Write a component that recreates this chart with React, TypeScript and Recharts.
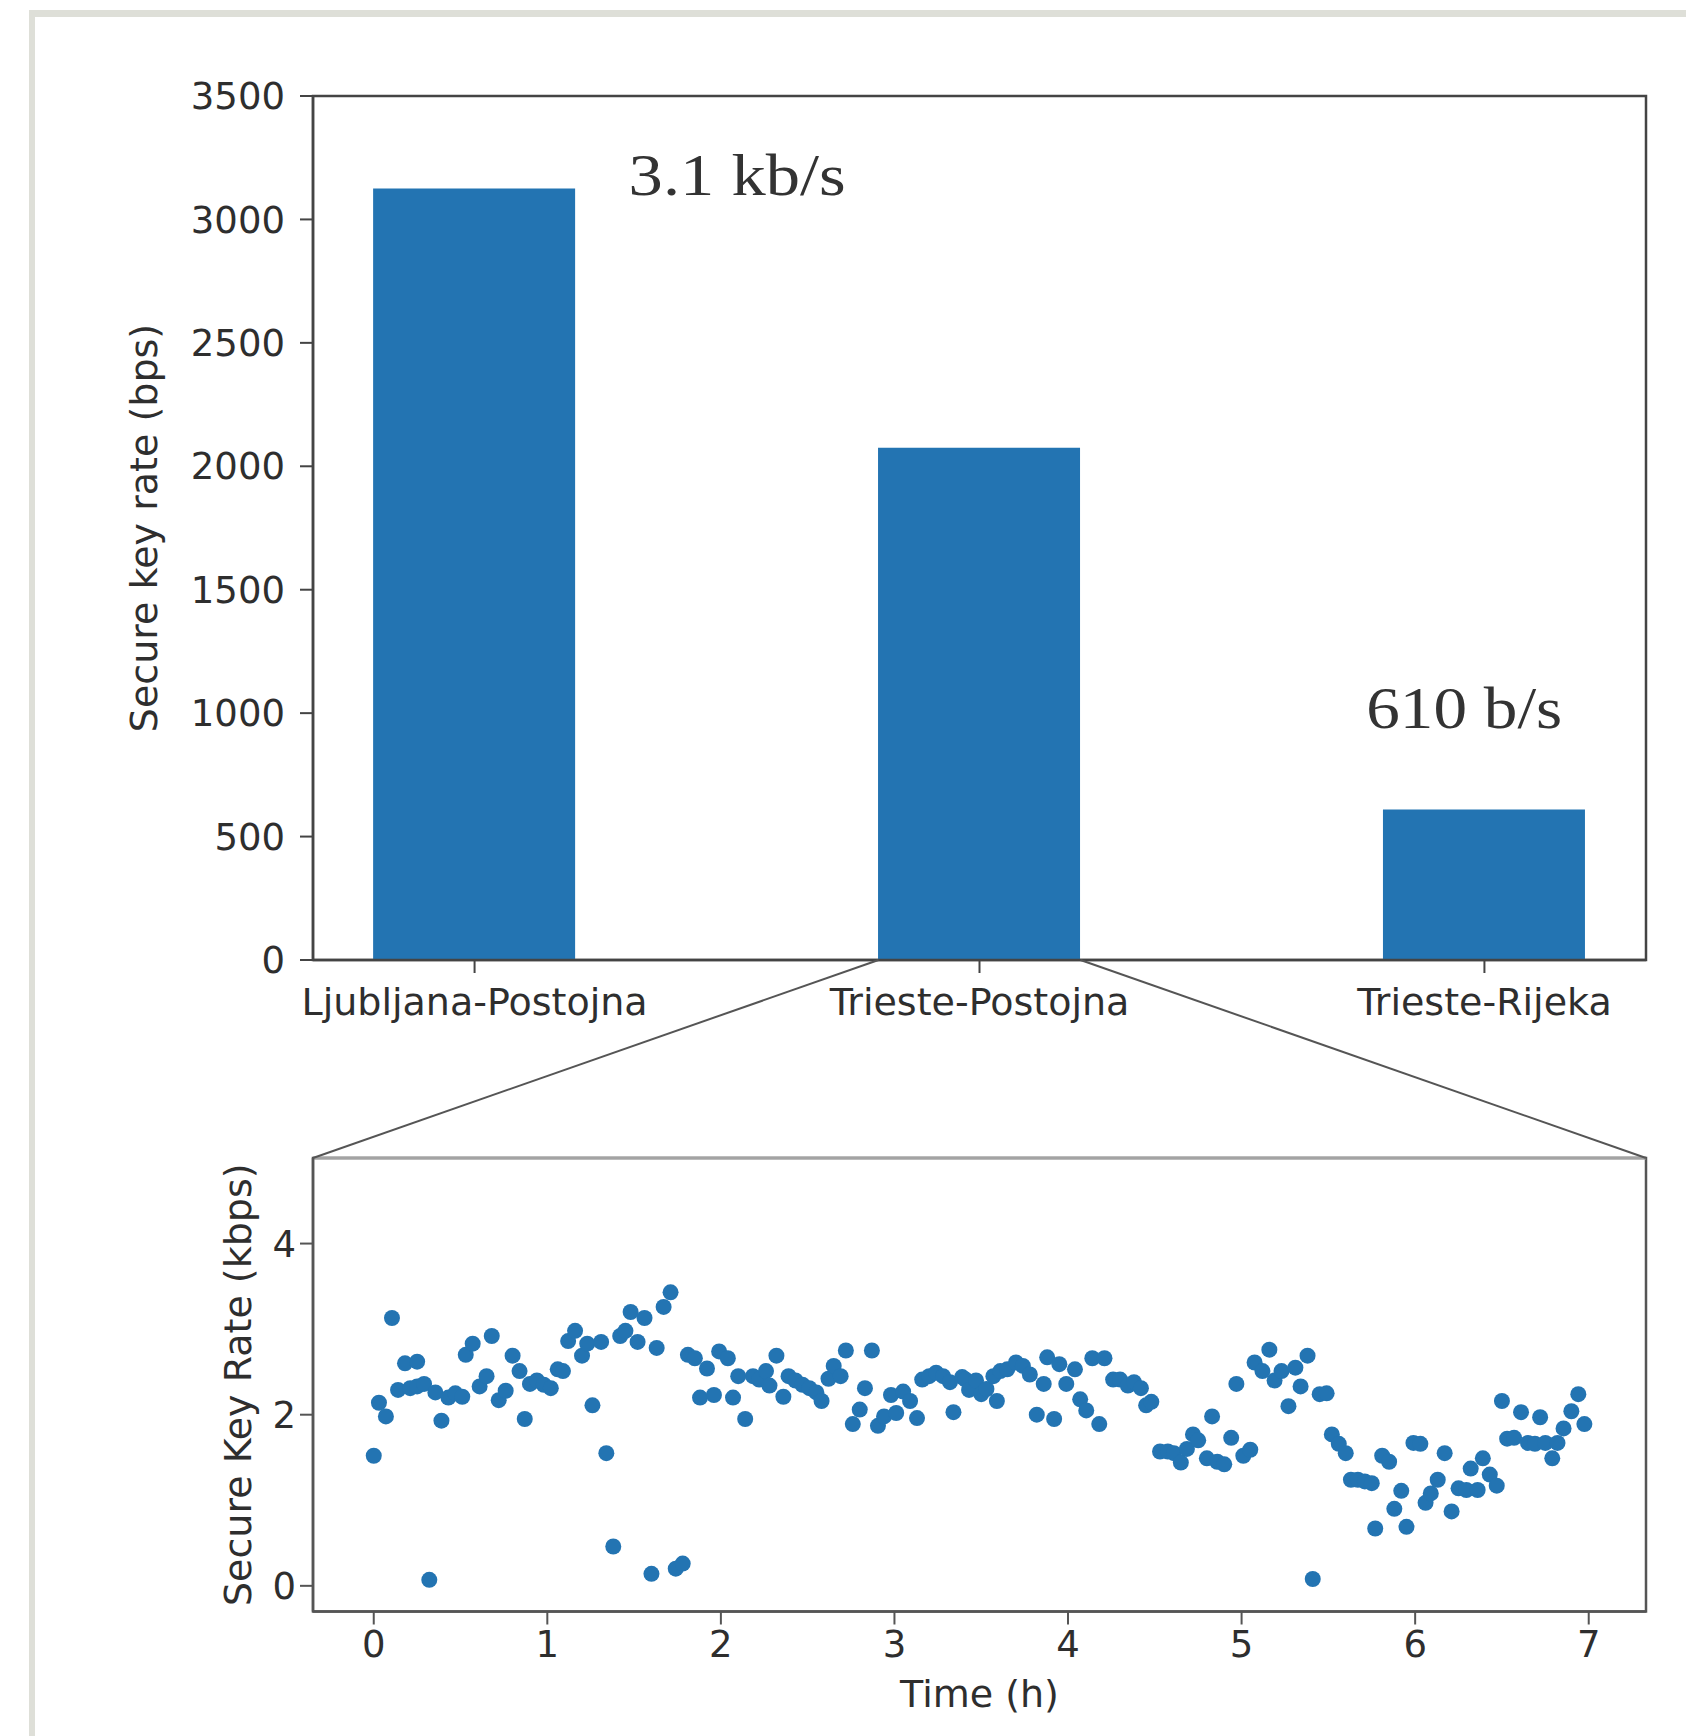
import React from "react";
import {
  BarChart,
  Bar,
  ScatterChart,
  Scatter,
  XAxis,
  YAxis,
  ReferenceArea,
  ReferenceDot,
  ReferenceLine,
  Label,
} from "recharts";

// top panel: secure key rate per link
const LINKS = ["Ljubljana-Postojna", "Trieste-Postojna", "Trieste-Rijeka"];
const LINK_RATES_BPS = [3125, 2075, 610];
const RATE_TICKS = [0, 500, 1000, 1500, 2000, 2500, 3000, 3500];

// bottom panel: Trieste-Postojna key rate over time
const TIME_H = [
  0.0, 0.03, 0.07, 0.105, 0.14, 0.18, 0.21, 0.25, 0.25, 0.29, 0.32, 0.355, 0.39, 0.43, 0.47, 0.51,
  0.53, 0.57, 0.61, 0.65, 0.68, 0.72, 0.76, 0.8, 0.84, 0.87, 0.9, 0.94, 0.98, 1.02, 1.06, 1.09,
  1.12, 1.16, 1.2, 1.23, 1.26, 1.31, 1.34, 1.38, 1.42, 1.45, 1.48, 1.52, 1.56, 1.6, 1.63, 1.67,
  1.71, 1.74, 1.78, 1.81, 1.85, 1.88, 1.92, 1.96, 1.99, 2.04, 2.07, 2.1, 2.14, 2.185, 2.22, 2.26,
  2.28, 2.32, 2.36, 2.39, 2.43, 2.47, 2.51, 2.55, 2.58, 2.62, 2.65, 2.69, 2.72, 2.76, 2.8, 2.83,
  2.87, 2.905, 2.94, 2.98, 3.01, 3.05, 3.09, 3.13, 3.16, 3.2, 3.24, 3.28, 3.32, 3.34, 3.39, 3.41,
  3.43, 3.47, 3.5, 3.53, 3.57, 3.59, 3.61, 3.65, 3.7, 3.74, 3.78, 3.82, 3.86, 3.88, 3.92, 3.95,
  3.99, 4.04, 4.07, 4.105, 4.14, 4.18, 4.21, 4.26, 4.3, 4.345, 4.38, 4.42, 4.45, 4.48, 4.53, 4.575,
  4.61, 4.65, 4.685, 4.72, 4.75, 4.8, 4.83, 4.86, 4.9, 4.94, 4.97, 5.01, 5.05, 5.075, 5.12, 5.16,
  5.19, 5.23, 5.27, 5.31, 5.34, 5.38, 5.41, 5.45, 5.49, 5.52, 5.56, 5.6, 5.63, 5.67, 5.71, 5.75,
  5.77, 5.81, 5.85, 5.88, 5.92, 5.95, 5.99, 6.03, 6.06, 6.09, 6.13, 6.17, 6.21, 6.25, 6.295, 6.32,
  6.36, 6.39, 6.43, 6.47, 6.5, 6.53, 6.57, 6.61, 6.65, 6.69, 6.72, 6.75, 6.79, 6.82, 6.855, 6.9,
  6.94, 6.975,
];
const KEY_RATE_KBPS = [
  1.52, 2.14, 1.98, 3.13, 2.29, 2.6, 2.31, 2.62, 2.33, 2.36, 0.07, 2.26, 1.93, 2.2, 2.25, 2.21,
  2.7, 2.83, 2.33, 2.45, 2.92, 2.17, 2.28, 2.69, 2.51, 1.95, 2.36, 2.4, 2.35, 2.31, 2.53, 2.51,
  2.86, 2.98, 2.69, 2.83, 2.11, 2.85, 1.55, 0.46, 2.92, 2.98, 3.2, 2.85, 3.13, 0.14, 2.78, 3.26,
  3.43, 0.2, 0.26, 2.7, 2.66, 2.2, 2.54, 2.23, 2.74, 2.66, 2.2, 2.45, 1.95, 2.45, 2.41, 2.51,
  2.34, 2.69, 2.21, 2.45, 2.4, 2.35, 2.31, 2.26, 2.16, 2.42, 2.57, 2.45, 2.75, 1.89, 2.06, 2.31,
  2.75, 1.87, 1.98, 2.23, 2.02, 2.27, 2.16, 1.96, 2.41, 2.45, 2.49, 2.45, 2.38, 2.03, 2.44, 2.41,
  2.29, 2.4, 2.24, 2.3, 2.45, 2.16, 2.51, 2.53, 2.61, 2.57, 2.47, 2.0, 2.36, 2.67, 1.95, 2.59,
  2.36, 2.53, 2.18, 2.05, 2.66, 1.89, 2.66, 2.41, 2.41, 2.34, 2.38, 2.31, 2.11, 2.15, 1.57, 1.57,
  1.55, 1.44, 1.6, 1.77, 1.7, 1.49, 1.98, 1.45, 1.42, 1.73, 2.36, 1.52, 1.59, 2.61, 2.51, 2.76,
  2.4, 2.51, 2.1, 2.55, 2.33, 2.69, 0.08, 2.24, 2.25, 1.77, 1.66, 1.55, 1.24, 1.24, 1.22, 1.2,
  0.67, 1.52, 1.45, 0.9, 1.11, 0.69, 1.67, 1.66, 0.97, 1.08, 1.24, 1.55, 0.87, 1.14, 1.12, 1.37,
  1.12, 1.49, 1.3, 1.17, 2.16, 1.72, 1.73, 2.03, 1.67, 1.66, 1.97, 1.67, 1.49, 1.67, 1.84, 2.04,
  2.24, 1.89,
];
const TIME_TICKS = [0, 1, 2, 3, 4, 5, 6, 7];
const KBPS_TICKS = [0, 2, 4];

const barData = LINKS.map((name, i) => ({ pos: i, name, rate: LINK_RATES_BPS[i] }));
const scatterData = TIME_H.map((t, i) => ({ t, rate: KEY_RATE_KBPS[i] }));

const BLUE = "#2374b2";
const AXIS = "#444";
const TEXT = "#2e2e2e";
const FONT = "DejaVu Sans";

const W = 1686;
const H = 1736;
const PLOT_LEFT = 313;
const PLOT_RIGHT_MARGIN = 40;
const BAR_TOP = 96;
const BAR_CHART_H = 1100;
const BAR_X_DOMAIN: [number, number] = [-0.32, 2.32];
const BAR_SIZE = 202;
const SCATTER_TOP = 58;
const SCATTER_CHART_H = H - BAR_CHART_H;
const SCATTER_X_DOMAIN: [number, number] = [-0.35, 7.33];
const SCATTER_Y_DOMAIN: [number, number] = [-0.3, 5];

const tickStyle = { fill: TEXT, fontSize: 37, fontFamily: FONT };

function annotation(text: string, width: number) {
  return (props: any) => {
    const vb = props.viewBox || {};
    const x = (vb.x ?? 0) + (vb.width ?? 0) / 2;
    const y = (vb.y ?? 0) + (vb.height ?? 0) / 2;
    return (
      <text
        x={x}
        y={y}
        textAnchor="middle"
        fontFamily="Liberation Serif"
        fontSize={60}
        fill="#333"
        textLength={width}
        lengthAdjust="spacingAndGlyphs"
      >
        {text}
      </text>
    );
  };
}

function ZoomLines() {
  // connect the base of the Trieste-Postojna bar to the top of the time series panel
  const plotW = W - PLOT_RIGHT_MARGIN - PLOT_LEFT;
  const barCenter =
    PLOT_LEFT + ((1 - BAR_X_DOMAIN[0]) / (BAR_X_DOMAIN[1] - BAR_X_DOMAIN[0])) * plotW;
  const baseY = BAR_CHART_H - 140;
  const frameTop = BAR_CHART_H + SCATTER_TOP;
  return (
    <svg
      width={W}
      height={H}
      style={{ position: "absolute", left: 0, top: 0, pointerEvents: "none" }}
    >
      <line x1={barCenter - BAR_SIZE / 2} y1={baseY} x2={PLOT_LEFT} y2={frameTop} stroke="#555" strokeWidth={2} />
      <line x1={barCenter + BAR_SIZE / 2} y1={baseY} x2={W - PLOT_RIGHT_MARGIN} y2={frameTop} stroke="#555" strokeWidth={2} />
    </svg>
  );
}

export default function App() {
  return (
    <div
      style={{
        position: "absolute",
        left: 0,
        top: 0,
        width: W,
        height: H,
        background: "#fff",
        overflow: "hidden",
        fontFamily: FONT,
      }}
    >
      <div style={{ position: "absolute", left: 29, top: 10, right: 0, height: 7, background: "#dedfd8" }} />
      <div style={{ position: "absolute", left: 29, top: 10, width: 6, bottom: 0, background: "#dedfd8" }} />

      <div style={{ position: "absolute", left: 0, top: 0 }}>
        <BarChart
          width={W}
          height={BAR_CHART_H}
          data={barData}
          margin={{ top: BAR_TOP, right: PLOT_RIGHT_MARGIN, bottom: 80, left: 0 }}
        >
          <XAxis
            type="number"
            dataKey="pos"
            domain={BAR_X_DOMAIN}
            ticks={[0, 1, 2]}
            interval={0}
            allowDataOverflow
            tickFormatter={(v: number) => LINKS[v] ?? ""}
            height={60}
            tickSize={13}
            tickMargin={15}
            axisLine={{ stroke: AXIS, strokeWidth: 2.5 }}
            tickLine={{ stroke: AXIS, strokeWidth: 2 }}
            tick={{ ...tickStyle, fontSize: 38 }}
          />
          <YAxis
            type="number"
            domain={[0, 3500]}
            ticks={RATE_TICKS}
            interval={0}
            width={PLOT_LEFT}
            tickSize={13}
            tickMargin={15}
            axisLine={{ stroke: AXIS, strokeWidth: 2.5 }}
            tickLine={{ stroke: AXIS, strokeWidth: 2 }}
            tick={tickStyle}
          >
            <Label
              value="Secure key rate (bps)"
              angle={-90}
              position="insideLeft"
              dx={139}
              style={{ textAnchor: "middle", fontSize: 38, fill: TEXT, fontFamily: FONT }}
            />
          </YAxis>
          <Bar dataKey="rate" fill={BLUE} barSize={BAR_SIZE} isAnimationActive={false} />
          <ReferenceArea
            x1={BAR_X_DOMAIN[0]}
            x2={BAR_X_DOMAIN[1]}
            y1={0}
            y2={3500}
            fill="none"
            fillOpacity={0}
            stroke={AXIS}
            strokeWidth={2.5}
            ifOverflow="visible"
          />
          <ReferenceDot x={0.52} y={3099} r={0} fill="none" stroke="none" label={annotation("3.1 kb/s", 217)} />
          <ReferenceDot x={1.96} y={938} r={0} fill="none" stroke="none" label={annotation("610 b/s", 196)} />
        </BarChart>
      </div>

      <div style={{ position: "absolute", left: 0, top: BAR_CHART_H }}>
        <ScatterChart
          width={W}
          height={SCATTER_CHART_H}
          margin={{ top: SCATTER_TOP, right: PLOT_RIGHT_MARGIN, bottom: 24.5, left: 0 }}
        >
          <XAxis
            type="number"
            dataKey="t"
            domain={SCATTER_X_DOMAIN}
            ticks={TIME_TICKS}
            interval={0}
            allowDataOverflow
            height={100}
            tickSize={13}
            tickMargin={6}
            axisLine={{ stroke: "#555", strokeWidth: 2.5 }}
            tickLine={{ stroke: "#555", strokeWidth: 2 }}
            tick={tickStyle}
          >
            <Label
              value="Time (h)"
              position="insideBottom"
              offset={5}
              style={{ fontSize: 38, fill: TEXT, fontFamily: FONT }}
            />
          </XAxis>
          <YAxis
            type="number"
            dataKey="rate"
            domain={SCATTER_Y_DOMAIN}
            ticks={KBPS_TICKS}
            interval={0}
            allowDataOverflow
            width={PLOT_LEFT}
            tickSize={13}
            tickMargin={4}
            axisLine={{ stroke: "#555", strokeWidth: 2.5 }}
            tickLine={{ stroke: "#555", strokeWidth: 2 }}
            tick={tickStyle}
          >
            <Label
              value="Secure Key Rate (kbps)"
              angle={-90}
              position="insideLeft"
              dx={233}
              style={{ textAnchor: "middle", fontSize: 38, fill: TEXT, fontFamily: FONT }}
            />
          </YAxis>
          <ReferenceArea
            x1={SCATTER_X_DOMAIN[0]}
            x2={SCATTER_X_DOMAIN[1]}
            y1={SCATTER_Y_DOMAIN[0]}
            y2={SCATTER_Y_DOMAIN[1]}
            fill="none"
            fillOpacity={0}
            stroke="#555"
            strokeWidth={2.5}
            ifOverflow="visible"
          />
          <ReferenceLine y={SCATTER_Y_DOMAIN[1]} stroke="#a3a3a3" strokeWidth={3} />
          <Scatter
            data={scatterData}
            fill={BLUE}
            isAnimationActive={false}
            shape={(p: any) => <circle cx={p.cx} cy={p.cy} r={8} fill={BLUE} />}
          />
        </ScatterChart>
      </div>

      <ZoomLines />
    </div>
  );
}
